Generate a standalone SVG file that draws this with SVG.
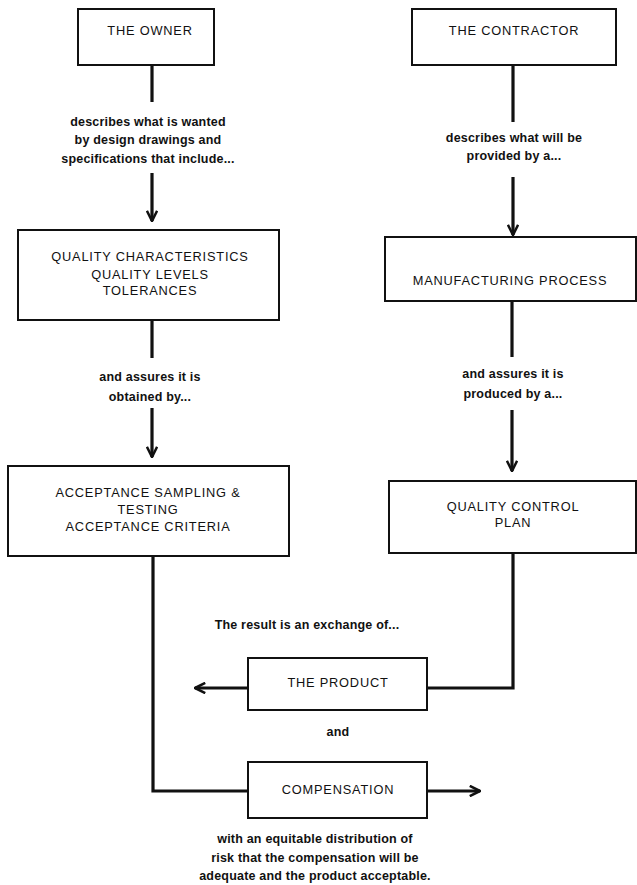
<svg xmlns="http://www.w3.org/2000/svg" width="637" height="885" viewBox="0 0 637 885">
<defs>
<style>
.box{fill:#fff;stroke:#111;stroke-width:2}
.ln{fill:none;stroke:#111;stroke-width:3.2}
.t{font-family:"Liberation Sans",Arial,sans-serif;font-size:12.5px;font-weight:bold;fill:#111;text-anchor:middle;letter-spacing:0.2px}
.c{font-family:"Liberation Sans",Arial,sans-serif;font-size:12.8px;fill:#111;text-anchor:middle;letter-spacing:0.8px}
</style>
<marker id="ah" viewBox="0 0 10 10" refX="9" refY="5" markerWidth="4" markerHeight="4" orient="auto" markerUnits="strokeWidth">
<path d="M1,1 L9,5 L1,9" fill="none" stroke="#111" stroke-width="2"/>
</marker>
</defs>
<g id="connectors">
<line class="ln" x1="152" y1="65" x2="152" y2="102"/>
<line class="ln" x1="152" y1="173" x2="152" y2="221" marker-end="url(#ah)"/>
<line class="ln" x1="152" y1="320" x2="152" y2="358"/>
<line class="ln" x1="152" y1="408" x2="152" y2="457" marker-end="url(#ah)"/>
<polyline class="ln" points="153,556 153,791 248,791"/>
<line class="ln" x1="427" y1="791" x2="480" y2="791" marker-end="url(#ah)"/>
<line class="ln" x1="513" y1="65" x2="513" y2="122"/>
<line class="ln" x1="513" y1="177" x2="513" y2="235" marker-end="url(#ah)"/>
<line class="ln" x1="512" y1="301" x2="512" y2="357"/>
<line class="ln" x1="512" y1="410" x2="512" y2="471" marker-end="url(#ah)"/>
<polyline class="ln" points="513,553 513,688 427,688"/>
<line class="ln" x1="248" y1="688" x2="195" y2="688" marker-end="url(#ah)"/>
</g>
<g id="owner">
<rect class="box" x="78" y="9" width="136" height="56"/>
<text class="c" x="150" y="35">THE OWNER</text>
</g>
<g id="owner-label">
<text class="t" x="148" y="126">describes what is wanted</text>
<text class="t" x="148" y="144">by design drawings and</text>
<text class="t" x="148" y="163">specifications that include...</text>
</g>
<g id="quality">
<rect class="box" x="18" y="230" width="261" height="90"/>
<text class="c" x="150" y="261">QUALITY CHARACTERISTICS</text>
<text class="c" x="150" y="279">QUALITY LEVELS</text>
<text class="c" x="150" y="295">TOLERANCES</text>
</g>
<g id="quality-label">
<text class="t" x="150" y="381">and assures it is</text>
<text class="t" x="150" y="401">obtained by...</text>
</g>
<g id="acceptance">
<rect class="box" x="8" y="466" width="281" height="90"/>
<text class="c" x="148" y="497">ACCEPTANCE SAMPLING &amp;</text>
<text class="c" x="148" y="514">TESTING</text>
<text class="c" x="148" y="531">ACCEPTANCE CRITERIA</text>
</g>
<g id="contractor">
<rect class="box" x="412" y="9" width="204" height="56"/>
<text class="c" x="514" y="35">THE CONTRACTOR</text>
</g>
<g id="contractor-label">
<text class="t" x="514" y="142">describes what will be</text>
<text class="t" x="514" y="160">provided by a...</text>
</g>
<g id="manufacturing">
<rect class="box" x="385" y="237" width="251" height="64"/>
<text class="c" x="510" y="285">MANUFACTURING PROCESS</text>
</g>
<g id="manufacturing-label">
<text class="t" x="513" y="378">and assures it is</text>
<text class="t" x="513" y="398">produced by a...</text>
</g>
<g id="qcplan">
<rect class="box" x="389" y="481" width="247" height="72"/>
<text class="c" x="513" y="511">QUALITY CONTROL</text>
<text class="c" x="513" y="527">PLAN</text>
</g>
<g id="exchange-label">
<text class="t" x="307" y="629">The result is an exchange of...</text>
</g>
<g id="product">
<rect class="box" x="248" y="658" width="179" height="52"/>
<text class="c" x="338" y="687">THE PRODUCT</text>
</g>
<g id="and-label">
<text class="t" x="338" y="736">and</text>
</g>
<g id="compensation">
<rect class="box" x="248" y="762" width="179" height="56"/>
<text class="c" x="338" y="794">COMPENSATION</text>
</g>
<g id="bottom-label">
<text class="t" x="315" y="843">with an equitable distribution of</text>
<text class="t" x="315" y="862">risk that the compensation will be</text>
<text class="t" x="315" y="880">adequate and the product acceptable.</text>
</g>
</svg>
